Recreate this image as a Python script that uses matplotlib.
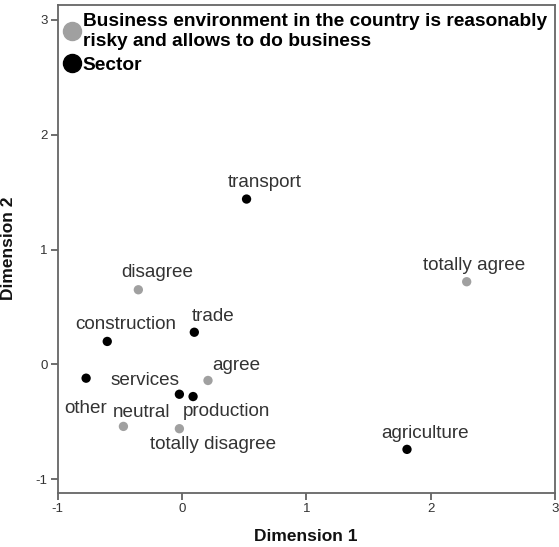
import matplotlib
matplotlib.use("Agg")
import matplotlib.pyplot as plt

plt.rcParams['font.family'] = ['Liberation Sans', 'DejaVu Sans']
plt.rcParams['axes.unicode_minus'] = False

# Business environment categories (gray)
env_labels = ["disagree", "totally agree", "agree", "neutral", "totally disagree"]
env_x = [-0.35, 2.29, 0.21, -0.47, -0.02]
env_y = [0.65, 0.72, -0.14, -0.54, -0.56]

# Sector categories (black)
sec_labels = ["transport", "trade", "construction", "other", "services", "production", "agriculture"]
sec_x = [0.52, 0.10, -0.60, -0.77, -0.02, 0.09, 1.81]
sec_y = [1.44, 0.28, 0.20, -0.12, -0.26, -0.28, -0.74]

legend_labels = ["Business environment in the country is reasonably\nrisky and allows to do business", "Sector"]

# label offsets in pixels (label centre relative to point)
env_off = {"disagree": (19, 17), "totally agree": (7, 16), "agree": (28, 15),
           "neutral": (18, 14), "totally disagree": (34, -16)}
sec_off = {"transport": (18, 17), "trade": (19, 16), "construction": (18, 17),
           "other": (0, -30), "services": (-34, 14), "production": (33, -15),
           "agriculture": (18, 16)}

fig = plt.figure(figsize=(5.59, 5.47), dpi=100)
ax = fig.add_axes([57.5/559, (547-493)/547, (555-57.5)/559, (493-5)/547])

gray = "#a0a0a0"
ax.scatter(env_x, env_y, s=45, color=gray, edgecolors='none', zorder=3)
ax.scatter(sec_x, sec_y, s=45, color="black", edgecolors='none', zorder=3)

txtc = "#333333"
for lab, x, y in zip(env_labels, env_x, env_y):
    dx, dy = env_off[lab]
    ax.annotate(lab, (x, y), xytext=(dx, dy), textcoords='offset pixels',
                ha='center', va='center', fontsize=13.6, color=txtc)
for lab, x, y in zip(sec_labels, sec_x, sec_y):
    dx, dy = sec_off[lab]
    ax.annotate(lab, (x, y), xytext=(dx, dy), textcoords='offset pixels',
                ha='center', va='center', fontsize=13.6, color=txtc)

ax.set_xlim(-1, 3)
ax.set_ylim(-1.12, 3.13)
ax.set_xticks([-1, 0, 1, 2, 3])
ax.set_yticks([-1, 0, 1, 2, 3])
ax.tick_params(direction='out', length=5, width=1.2, color="#555555",
               labelsize=9.5, labelcolor="#333333", pad=2)
for sp in ax.spines.values():
    sp.set_color("#666666")
    sp.set_linewidth(1.3)

ax.set_xlabel("Dimension 1", fontsize=12.5, fontweight='bold', color="#111111", labelpad=10)
ax.set_ylabel("Dimension 2", fontsize=12.5, fontweight='bold', color="#111111")
ax.yaxis.set_label_coords(-0.083, 0.502)

from matplotlib.lines import Line2D
hl = [Line2D([], [], marker='o', ls='none', color=gray, markersize=13),
      Line2D([], [], marker='o', ls='none', color='black', markersize=13)]
leg = ax.legend(hl, legend_labels, loc='upper left', frameon=False,
                prop={'size': 13.8, 'weight': 'bold'}, handletextpad=0.0,
                borderaxespad=0.0, borderpad=0.3, labelspacing=0.35,
                handlelength=1.1, bbox_to_anchor=(-0.003, 0.995))
for t in leg.get_texts():
    t.set_linespacing(1.22)

fig.savefig("out.png", dpi=100)
